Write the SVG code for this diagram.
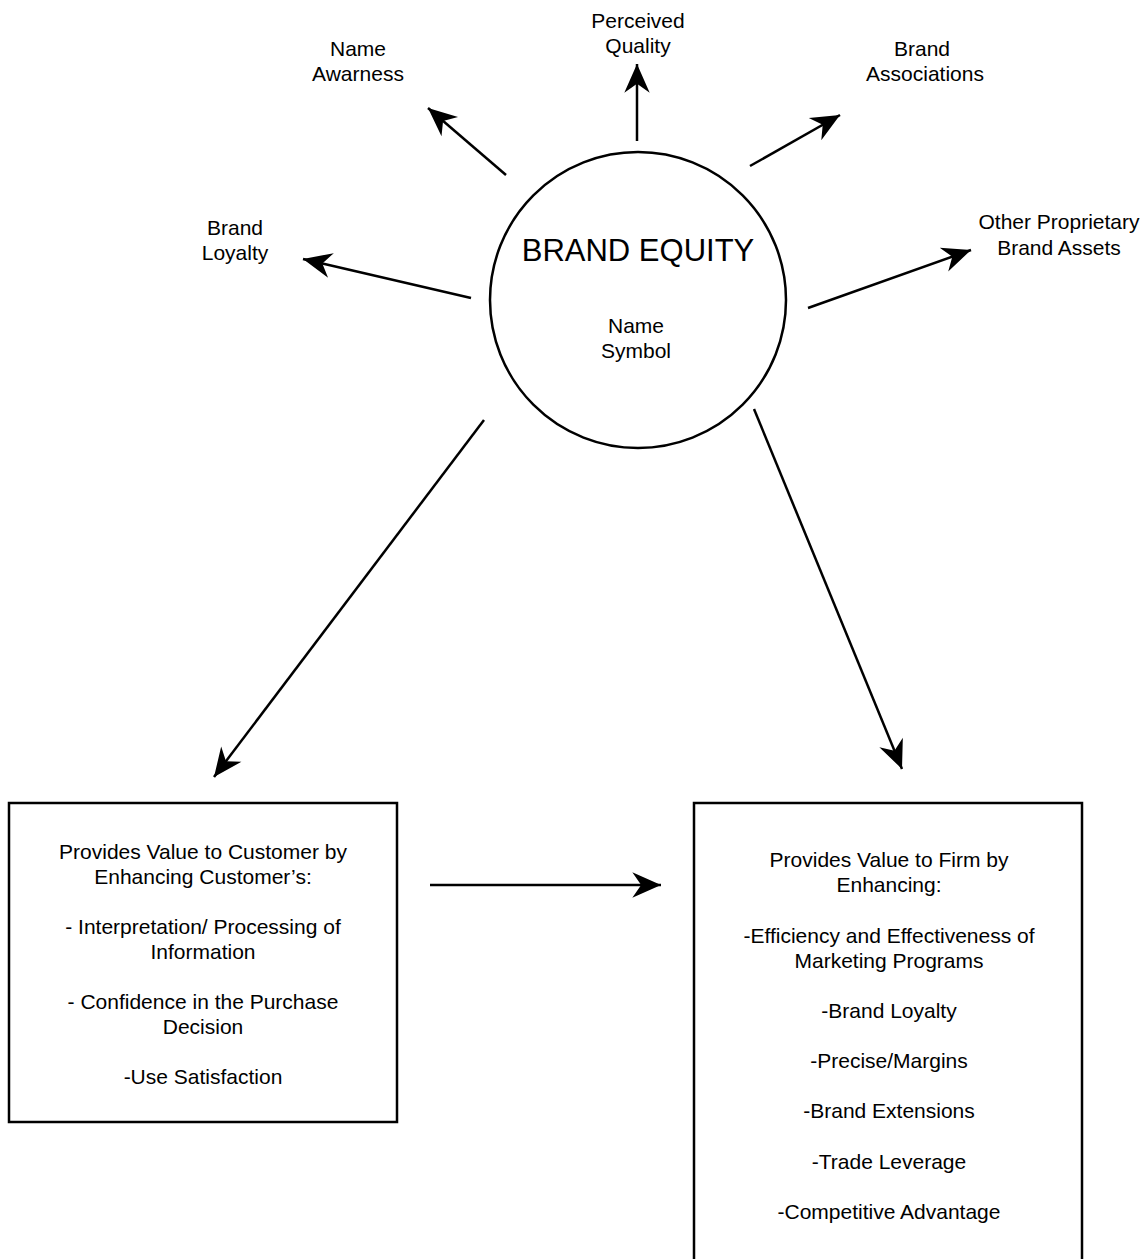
<svg xmlns="http://www.w3.org/2000/svg" width="1148" height="1259" viewBox="0 0 1148 1259">
<defs>
<marker id="ah" markerUnits="userSpaceOnUse" markerWidth="32" markerHeight="32" viewBox="-27 -13 29 26" refX="0" refY="0" orient="auto">
<path d="M0,0 L-26,-11.5 L-18,0 L-26,11.5 Z" fill="#000"/>
</marker>
<style>
text{font-family:"Liberation Sans",Arial,sans-serif;font-size:21px;fill:#000;text-anchor:middle}
.big{font-size:31px}
.c{fill:none;stroke:#000;stroke-width:2.5;marker-end:url(#ah)}
.n{fill:#fff;stroke:#000;stroke-width:2.5}
</style>
</defs>
<rect width="1148" height="1259" fill="#fff"/>
<g id="connectors">
<line class="c" x1="506" y1="175" x2="428" y2="108"/>
<line class="c" x1="637" y1="141" x2="637" y2="64"/>
<line class="c" x1="750" y1="166" x2="840" y2="115"/>
<line class="c" x1="808" y1="308" x2="971" y2="250"/>
<line class="c" x1="471" y1="298" x2="303" y2="259"/>
<line class="c" x1="484" y1="420" x2="214" y2="777"/>
<line class="c" x1="754" y1="409" x2="902" y2="769"/>
<line class="c" x1="430" y1="885" x2="661" y2="885"/>
</g>
<g id="brand-equity">
<circle class="n" cx="638" cy="300" r="148"/>
<text class="big" x="638" y="261">BRAND EQUITY</text>
<text x="636" y="333">Name</text>
<text x="636" y="358">Symbol</text>
</g>
<g id="name-awareness"><text x="358" y="56">Name</text><text x="358" y="81">Awarness</text></g>
<g id="perceived-quality"><text x="638" y="28">Perceived</text><text x="638" y="53">Quality</text></g>
<g id="brand-associations"><text x="922" y="56">Brand</text><text x="925" y="81">Associations</text></g>
<g id="brand-loyalty"><text x="235" y="235">Brand</text><text x="235" y="260">Loyalty</text></g>
<g id="other-assets"><text x="1059" y="229">Other Proprietary</text><text x="1059" y="255">Brand Assets</text></g>
<g id="customer-box">
<rect class="n" x="9" y="803" width="388" height="319"/>
<text x="203" y="859">Provides Value to Customer by</text>
<text x="203" y="884">Enhancing Customer’s:</text>
<text x="203" y="934">- Interpretation/ Processing of</text>
<text x="203" y="959">Information</text>
<text x="203" y="1009">- Confidence in the Purchase</text>
<text x="203" y="1034">Decision</text>
<text x="203" y="1084">-Use Satisfaction</text>
</g>
<g id="firm-box">
<rect class="n" x="694" y="803" width="388" height="480"/>
<text x="889" y="867">Provides Value to Firm by</text>
<text x="889" y="892">Enhancing:</text>
<text x="889" y="943">-Efficiency and Effectiveness of</text>
<text x="889" y="968">Marketing Programs</text>
<text x="889" y="1018">-Brand Loyalty</text>
<text x="889" y="1068">-Precise/Margins</text>
<text x="889" y="1118">-Brand Extensions</text>
<text x="889" y="1169">-Trade Leverage</text>
<text x="889" y="1219">-Competitive Advantage</text>
</g>
</svg>
